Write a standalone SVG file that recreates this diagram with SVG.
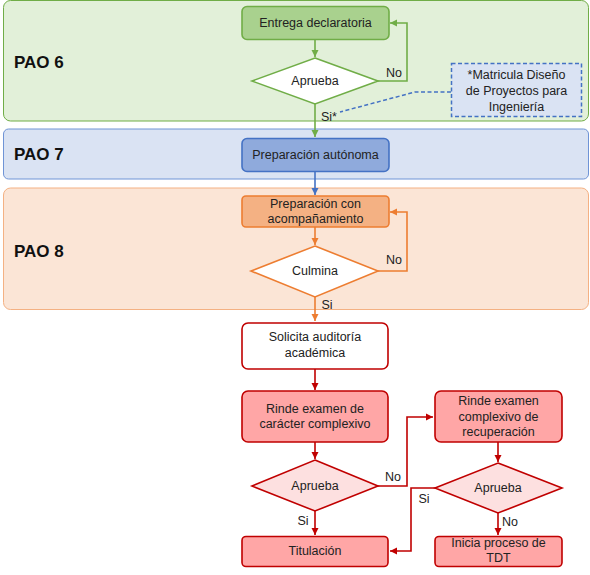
<svg xmlns="http://www.w3.org/2000/svg" width="590" height="575" viewBox="0 0 590 575">
<defs>
<style>
text{font-family:"Liberation Sans",Arial,sans-serif;font-size:12.5px;fill:#222;text-anchor:middle;dominant-baseline:central}
.pao{font-size:17px;font-weight:bold;text-anchor:start;fill:#111}
.lbl{font-size:12.5px}
.g{stroke:#70ad47}
.b{stroke:#4472c4}
.o{stroke:#ed7d31}
.r{stroke:#c00000}
.ln{fill:none;stroke-width:1.6}
.box{stroke-width:1.6}
</style>
<marker id="ag" markerWidth="8" markerHeight="8" refX="7" refY="4" orient="auto" markerUnits="userSpaceOnUse"><path d="M0,0.5 L7,4 L0,7.5 z" fill="#70ad47"/></marker>
<marker id="ab" markerWidth="8" markerHeight="8" refX="7" refY="4" orient="auto" markerUnits="userSpaceOnUse"><path d="M0,0.5 L7,4 L0,7.5 z" fill="#4472c4"/></marker>
<marker id="ao" markerWidth="8" markerHeight="8" refX="7" refY="4" orient="auto" markerUnits="userSpaceOnUse"><path d="M0,0.5 L7,4 L0,7.5 z" fill="#ed7d31"/></marker>
<marker id="ar" markerWidth="8" markerHeight="8" refX="7" refY="4" orient="auto" markerUnits="userSpaceOnUse"><path d="M0,0.5 L7,4 L0,7.5 z" fill="#c00000"/></marker>
</defs>
<rect width="590" height="575" fill="#ffffff"/>

<g id="bands">
<g id="pao6"><rect x="3.5" y="0.5" width="585" height="120.5" rx="7" fill="#e2f0d9" stroke="#70ad47" stroke-width="1"/><text class="pao" x="14" y="62">PAO 6</text></g>
<g id="pao7"><rect x="3.5" y="129" width="585" height="50" rx="5" fill="#dae3f3" stroke="#6f94d6" stroke-width="1"/><text class="pao" x="14" y="154">PAO 7</text></g>
<g id="pao8"><rect x="3.5" y="188" width="585" height="121.5" rx="7" fill="#fbe5d6" stroke="#f4b183" stroke-width="1"/><text class="pao" x="14" y="251">PAO 8</text></g>
</g>

<g id="connectors">
<path class="ln g" d="M315,39 V57" marker-end="url(#ag)"/>
<path class="ln g" d="M378,81 H407 V23 H390" marker-end="url(#ag)"/>
<path class="ln g" d="M315,104 V137" marker-end="url(#ag)"/>
<path d="M451,92 H415 L340,112" fill="none" stroke="#4472c4" stroke-width="1.5" stroke-dasharray="4,2.5"/>
<path class="ln b" d="M315,172 V195" marker-end="url(#ab)"/>
<path class="ln o" d="M315,227 V245" marker-end="url(#ao)"/>
<path class="ln o" d="M378,271 H407 V212 H390" marker-end="url(#ao)"/>
<path class="ln o" d="M315,297 V321" marker-end="url(#ao)"/>
<path class="ln r" d="M315,369 V390" marker-end="url(#ar)"/>
<path class="ln r" d="M315,442 V459" marker-end="url(#ar)"/>
<path class="ln r" d="M378,486 H407 V417 H433" marker-end="url(#ar)"/>
<path class="ln r" d="M315,511 V535" marker-end="url(#ar)"/>
<path class="ln r" d="M498,442 V462" marker-end="url(#ar)"/>
<path class="ln r" d="M435,488 H411 V551 H390" marker-end="url(#ar)"/>
<path class="ln r" d="M498,513 V535" marker-end="url(#ar)"/>
<text class="lbl" x="394" y="73">No</text>
<text class="lbl" x="329" y="117">Si*</text>
<text class="lbl" x="394" y="260">No</text>
<text class="lbl" x="327" y="305">Si</text>
<text class="lbl" x="393" y="477">No</text>
<text class="lbl" x="303" y="521">Si</text>
<text class="lbl" x="424" y="499">Si</text>
<text class="lbl" x="510" y="522">No</text>
</g>

<g id="n-entrega"><rect class="box g" x="242" y="6.5" width="147" height="33" rx="5" fill="#a9d18e"/><text x="315.5" y="23">Entrega declaratoria</text></g>
<g id="n-aprueba1"><polygon class="box g" points="315,58 378,81 315,104 252,81" fill="#ffffff"/><text x="315" y="81">Aprueba</text></g>
<g id="n-nota"><rect x="451.5" y="63.5" width="130" height="53" fill="#dae3f3" stroke="#4472c4" stroke-width="1.5" stroke-dasharray="4,2.5"/><text x="516.5" y="75">*Matricula Diseño</text><text x="516.5" y="91">de Proyectos para</text><text x="516.5" y="107">Ingeniería</text></g>
<g id="n-autonoma"><rect class="box b" x="242" y="138.5" width="147" height="33" rx="5" fill="#8faadc"/><text x="315.5" y="155">Preparación autónoma</text></g>
<g id="n-acomp"><rect class="box o" x="242" y="196" width="147" height="31" rx="4" fill="#f4b183"/><text x="315.5" y="204">Preparación con</text><text x="315.5" y="219">acompañamiento</text></g>
<g id="n-culmina"><polygon class="box o" points="315,246 378,271 315,297 251,271" fill="#ffffff"/><text x="315" y="271">Culmina</text></g>
<g id="n-solicita"><rect class="box r" x="242" y="323" width="146" height="46" rx="6" fill="#ffffff"/><text x="315" y="337">Solicita auditoría</text><text x="315" y="353">académica</text></g>
<g id="n-rinde1"><rect class="box r" x="242" y="391" width="146" height="51" rx="6" fill="#ffa6a6"/><text x="315" y="409">Rinde examen de</text><text x="315" y="424">carácter complexivo</text></g>
<g id="n-aprueba2"><polygon class="box r" points="315,460 378,486 315,511 252,486" fill="#fde0e0"/><text x="315" y="486">Aprueba</text></g>
<g id="n-titulacion"><rect class="box r" x="242" y="536.5" width="146" height="30" rx="4" fill="#ffa6a6"/><text x="315" y="551">Titulación</text></g>
<g id="n-rinde2"><rect class="box r" x="435" y="391" width="127" height="51" rx="6" fill="#ffa6a6"/><text x="498.5" y="401">Rinde examen</text><text x="498.5" y="417">complexivo de</text><text x="498.5" y="432">recuperación</text></g>
<g id="n-aprueba3"><polygon class="box r" points="498,463 562,488 498,513 435,488" fill="#fde0e0"/><text x="498" y="488">Aprueba</text></g>
<g id="n-tdt"><rect class="box r" x="435" y="536.5" width="127" height="30" rx="4" fill="#ffa6a6"/><text x="498.5" y="543">Inicia proceso de</text><text x="498.5" y="558">TDT</text></g>
</svg>
